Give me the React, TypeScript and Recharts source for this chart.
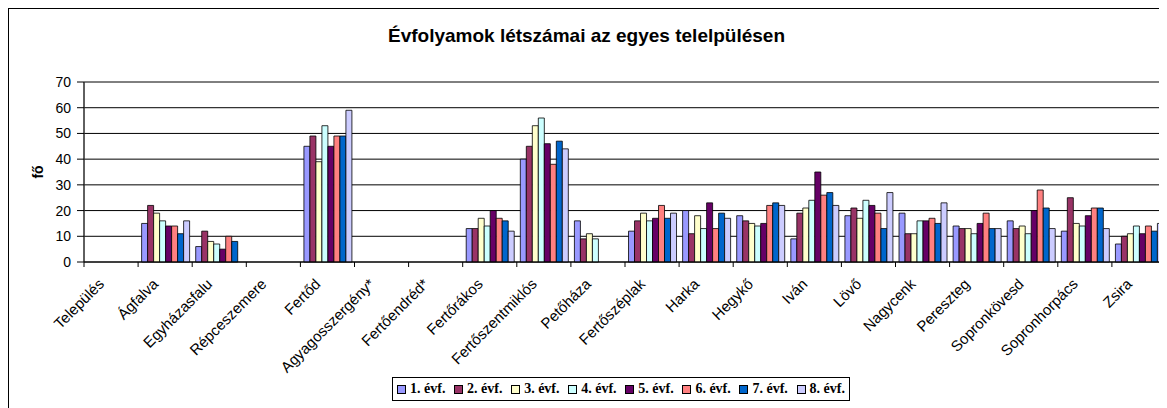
import { Bar, BarChart, CartesianGrid, ReferenceArea, XAxis, YAxis } from 'recharts';

const categories = [
  'Település', 'Ágfalva', 'Egyházasfalu', 'Répceszemere', 'Fertőd', 'Agyagosszergény*',
  'Fertőendréd*', 'Fertőrákos', 'Fertőszentmiklós', 'Petőháza', 'Fertőszéplak', 'Harka',
  'Hegykő', 'Iván', 'Lövő', 'Nagycenk', 'Pereszteg', 'Sopronkövesd', 'Sopronhorpács', 'Zsira',
];

const evf1 = [null, 15, 6, null, 45, null, null, 13, 40, 16, 12, 20, 18, 9, 18, 19, 14, 16, 12, 7];
const evf2 = [null, 22, 12, null, 49, null, null, 13, 45, 9, 16, 11, 16, 19, 21, 11, 13, 13, 25, 10];
const evf3 = [null, 19, 8, null, 39, null, null, 17, 53, 11, 19, 18, 15, 21, 17, 11, 13, 14, 15, 11];
const evf4 = [null, 16, 7, null, 53, null, null, 14, 56, 9, 16, 13, 14, 24, 24, 16, 11, 11, 14, 14];
const evf5 = [null, 14, 5, null, 45, null, null, 20, 46, null, 17, 23, 15, 35, 22, 16, 15, 20, 18, 11];
const evf6 = [null, 14, 10, null, 49, null, null, 17, 38, null, 22, 13, 22, 26, 19, 17, 19, 28, 21, 14];
const evf7 = [null, 11, 8, null, 49, null, null, 16, 47, null, 17, 19, 23, 27, 13, 15, 13, 21, 21, 12];
const evf8 = [null, 16, null, null, 59, null, null, 12, 44, null, 19, 17, 22, 22, 27, 23, 13, 13, 13, 15];

const seriesNames = ['1. évf.', '2. évf.', '3. évf.', '4. évf.', '5. évf.', '6. évf.', '7. évf.', '8. évf.'];
const seriesValues = [evf1, evf2, evf3, evf4, evf5, evf6, evf7, evf8];
const seriesColors = ['#9999FF', '#993366', '#FFFFCC', '#CCFFFF', '#660066', '#FF8080', '#0066CC', '#CCCCFF'];
const yTicks = [0, 10, 20, 30, 40, 50, 60, 70];

const data = categories.map((name, i) => {
  const row: Record<string, string | number | null> = { name };
  seriesNames.forEach((s, k) => {
    row[s] = seriesValues[k][i];
  });
  return row;
});

const W = 1159;
const H = 400;
const Y_AXIS_W = 76;
const MARGIN = { top: 74, right: 1, left: 0, bottom: 0 };
const BAND = (W - MARGIN.left - MARGIN.right - Y_AXIS_W) / categories.length;
const FONT = 'Arial, "Liberation Sans", sans-serif';

const CategoryTick = (props: any) => {
  const { x, y, payload, index } = props;
  const half = BAND / 2;
  const tx = x - 6;
  const ty = y + 23;
  return (
    <g>
      <line x1={x - half} x2={x - half} y1={y} y2={y + 5} stroke="#000" />
      {index === categories.length - 1 && (
        <line x1={x + half} x2={x + half} y1={y} y2={y + 5} stroke="#000" />
      )}
      <text
        x={tx}
        y={ty}
        transform={`rotate(-45 ${tx} ${ty})`}
        textAnchor="end"
        fontSize={15}
        fontFamily={FONT}
        fill="#000"
      >
        {payload.value}
      </text>
    </g>
  );
};

const LegendBox = () => (
  <div
    style={{
      position: 'absolute',
      left: 384,
      top: 369,
      display: 'flex',
      alignItems: 'center',
      border: '1px solid #000',
      height: 24,
      padding: '0 4px',
      fontFamily: '"Times New Roman", "Liberation Serif", serif',
      fontWeight: 'bold',
      fontSize: 14,
      background: '#fff',
      boxSizing: 'border-box',
      width: 458,
      justifyContent: 'space-between',
    }}
  >
    {seriesNames.map((s, k) => (
      <span key={s} style={{ display: 'flex', alignItems: 'center', whiteSpace: 'nowrap' }}>
        <span
          style={{
            width: 7,
            height: 7,
            background: seriesColors[k],
            border: '1px solid #000',
            marginRight: 4,
            display: 'inline-block',
          }}
        />
        {s}
      </span>
    ))}
  </div>
);

export default function App() {
  return (
    <div style={{ position: 'relative', width: W, height: H, background: '#fff' }}>
      <div
        style={{
          position: 'absolute',
          left: 0,
          top: 0,
          width: W,
          height: H,
          borderLeft: '1px solid #000',
          borderTop: '1px solid #000',
          boxSizing: 'border-box',
          pointerEvents: 'none',
        }}
      />
      <div
        style={{
          position: 'absolute',
          left: 0,
          top: 17,
          width: 1157,
          textAlign: 'center',
          fontFamily: FONT,
          fontWeight: 'bold',
          fontSize: 19,
        }}
      >
        Évfolyamok létszámai az egyes telelpülésen
      </div>
      <div
        style={{
          position: 'absolute',
          left: 30,
          top: 164,
          transform: 'translate(-50%, -50%) rotate(-90deg)',
          fontFamily: FONT,
          fontWeight: 'bold',
          fontSize: 14,
        }}
      >
        fő
      </div>
      <BarChart
        width={W}
        height={H}
        data={data}
        margin={MARGIN}
        barCategoryGap="6.5%"
        barGap={0}
      >
        <CartesianGrid horizontal vertical={false} stroke="#000" />
        <ReferenceArea y1={0} y2={70} fill="none" stroke="#808080" strokeWidth={1} ifOverflow="visible" />
        <XAxis
          dataKey="name"
          interval={0}
          tickLine={false}
          tickSize={0}
          tickMargin={0}
          height={H - MARGIN.top - 180}
          axisLine={{ stroke: '#000' }}
          tick={<CategoryTick />}
        />
        <YAxis
          width={Y_AXIS_W}
          domain={[0, 70]}
          ticks={yTicks}
          interval={0}
          tickSize={7}
          tickMargin={6}
          axisLine={{ stroke: '#000' }}
          tickLine={{ stroke: '#000' }}
          tick={{ fill: '#000', fontSize: 14, fontFamily: FONT }}
        />
        {seriesNames.map((s, k) => (
          <Bar
            key={s}
            dataKey={s}
            fill={seriesColors[k]}
            stroke="#000"
            strokeWidth={0.8}
            isAnimationActive={false}
          />
        ))}
      </BarChart>
      <LegendBox />
    </div>
  );
}
